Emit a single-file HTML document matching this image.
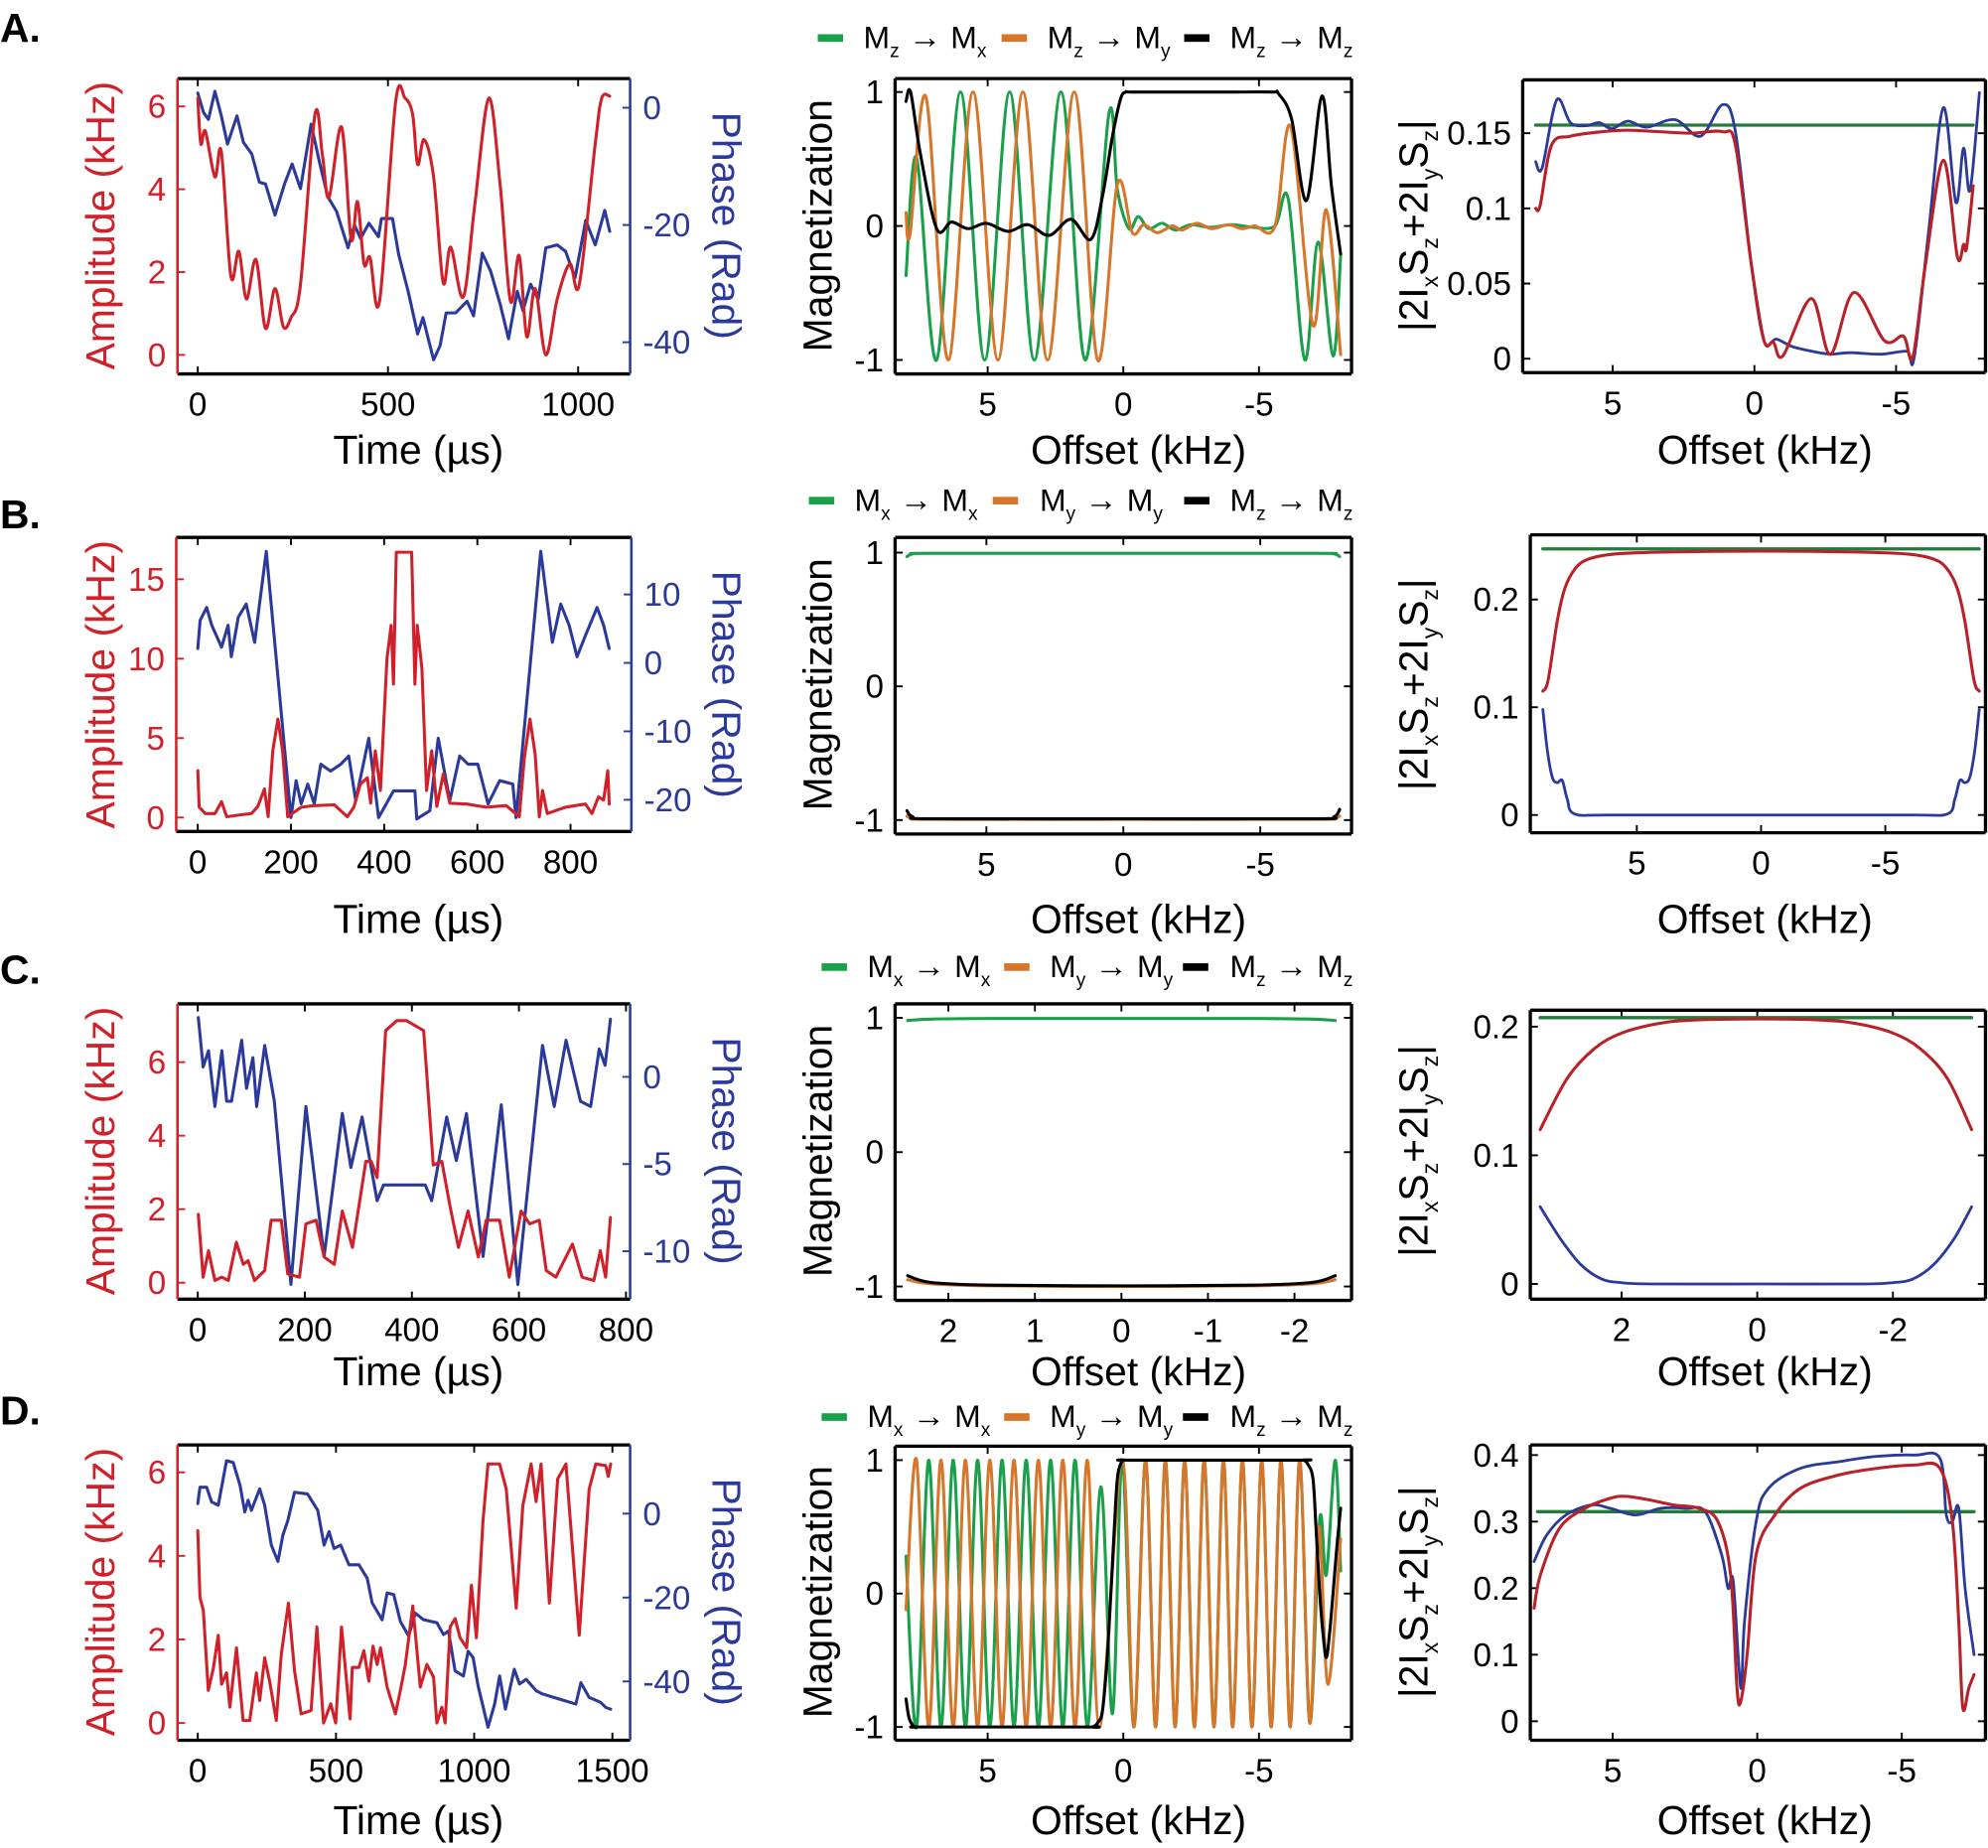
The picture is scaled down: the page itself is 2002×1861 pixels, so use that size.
<!DOCTYPE html>
<html><head><meta charset="utf-8">
<style>
body{margin:0;background:#fff}
svg{display:block}
text{font-family:"Liberation Sans",Arial,sans-serif}
.ar{font-weight:bold;font-size:26px}
</style></head>
<body>
<svg id="fig" xmlns="http://www.w3.org/2000/svg" width="2002" height="1861" viewBox="0 0 1568 1458" preserveAspectRatio="none">
<rect x="0" y="0" width="1568" height="1458" fill="#fff"/>
<g font-weight="bold" font-size="32">
<text x="0" y="33">A.</text>
<text x="0" y="417">B.</text>
<text x="0" y="776">C.</text>
<text x="0" y="1124">D.</text>
</g>
<g font-size="25">
<g>
<rect x="645" y="27" width="20" height="6" fill="#1aa04a"/>
<text x="681" y="38">M<tspan font-size="15" dy="7">z</tspan><tspan dy="-7" class="ar"> → </tspan><tspan>M</tspan><tspan font-size="15" dy="7">x</tspan></text>
<rect x="790" y="27" width="20" height="6" fill="#d5762a"/>
<text x="826" y="38">M<tspan font-size="15" dy="7">z</tspan><tspan dy="-7" class="ar"> → </tspan><tspan>M</tspan><tspan font-size="15" dy="7">y</tspan></text>
<rect x="934" y="27" width="20" height="6" fill="#000"/>
<text x="970" y="38">M<tspan font-size="15" dy="7">z</tspan><tspan dy="-7" class="ar"> → </tspan><tspan>M</tspan><tspan font-size="15" dy="7">z</tspan></text>
</g>
<g>
<rect x="638" y="392" width="20" height="6" fill="#1aa04a"/>
<text x="674" y="403">M<tspan font-size="15" dy="7">x</tspan><tspan dy="-7" class="ar"> → </tspan><tspan>M</tspan><tspan font-size="15" dy="7">x</tspan></text>
<rect x="783" y="392" width="20" height="6" fill="#d5762a"/>
<text x="820" y="403">M<tspan font-size="15" dy="7">y</tspan><tspan dy="-7" class="ar"> → </tspan><tspan>M</tspan><tspan font-size="15" dy="7">y</tspan></text>
<rect x="934" y="392" width="20" height="6" fill="#000"/>
<text x="970" y="403">M<tspan font-size="15" dy="7">z</tspan><tspan dy="-7" class="ar"> → </tspan><tspan>M</tspan><tspan font-size="15" dy="7">z</tspan></text>
</g>
<g>
<rect x="648" y="760" width="20" height="6" fill="#1aa04a"/>
<text x="684" y="771">M<tspan font-size="15" dy="7">x</tspan><tspan dy="-7" class="ar"> → </tspan><tspan>M</tspan><tspan font-size="15" dy="7">x</tspan></text>
<rect x="792" y="760" width="20" height="6" fill="#d5762a"/>
<text x="828" y="771">M<tspan font-size="15" dy="7">y</tspan><tspan dy="-7" class="ar"> → </tspan><tspan>M</tspan><tspan font-size="15" dy="7">y</tspan></text>
<rect x="933" y="760" width="20" height="6" fill="#000"/>
<text x="970" y="771">M<tspan font-size="15" dy="7">z</tspan><tspan dy="-7" class="ar"> → </tspan><tspan>M</tspan><tspan font-size="15" dy="7">z</tspan></text>
</g>
<g>
<rect x="648" y="1115" width="20" height="6" fill="#1aa04a"/>
<text x="684" y="1126">M<tspan font-size="15" dy="7">x</tspan><tspan dy="-7" class="ar"> → </tspan><tspan>M</tspan><tspan font-size="15" dy="7">x</tspan></text>
<rect x="792" y="1115" width="20" height="6" fill="#d5762a"/>
<text x="828" y="1126">M<tspan font-size="15" dy="7">y</tspan><tspan dy="-7" class="ar"> → </tspan><tspan>M</tspan><tspan font-size="15" dy="7">y</tspan></text>
<rect x="933" y="1115" width="20" height="6" fill="#000"/>
<text x="970" y="1126">M<tspan font-size="15" dy="7">z</tspan><tspan dy="-7" class="ar"> → </tspan><tspan>M</tspan><tspan font-size="15" dy="7">z</tspan></text>
</g>
</g>
<g font-size="32" text-anchor="middle">
<text x="330" y="366">Time (µs)</text>
<text x="898" y="366">Offset (kHz)</text>
<text x="1392" y="366">Offset (kHz)</text>
<text x="330" y="736">Time (µs)</text>
<text x="898" y="736">Offset (kHz)</text>
<text x="1392" y="736">Offset (kHz)</text>
<text x="330" y="1093">Time (µs)</text>
<text x="898" y="1093">Offset (kHz)</text>
<text x="1392" y="1093">Offset (kHz)</text>
<text x="330" y="1447">Time (µs)</text>
<text x="898" y="1447">Offset (kHz)</text>
<text x="1392" y="1447">Offset (kHz)</text>
<text transform="translate(90,178) rotate(-90)" fill="#d0202a">Amplitude (kHz)</text>
<text transform="translate(90,540) rotate(-90)" fill="#d0202a">Amplitude (kHz)</text>
<text transform="translate(90,908) rotate(-90)" fill="#d0202a">Amplitude (kHz)</text>
<text transform="translate(90,1256) rotate(-90)" fill="#d0202a">Amplitude (kHz)</text>
<text transform="translate(562,178) rotate(90)" fill="#2b3a9a">Phase (Rad)</text>
<text transform="translate(562,540) rotate(90)" fill="#2b3a9a">Phase (Rad)</text>
<text transform="translate(562,908) rotate(90)" fill="#2b3a9a">Phase (Rad)</text>
<text transform="translate(562,1256) rotate(90)" fill="#2b3a9a">Phase (Rad)</text>
<text transform="translate(656,178) rotate(-90)">Magnetization</text>
<text transform="translate(656,540) rotate(-90)">Magnetization</text>
<text transform="translate(656,908) rotate(-90)">Magnetization</text>
<text transform="translate(656,1256) rotate(-90)">Magnetization</text>
<text transform="translate(1126,178) rotate(-90)">|2I<tspan font-size="18" dy="8">x</tspan><tspan dy="-8">S</tspan><tspan font-size="18" dy="8">z</tspan><tspan dy="-8">+2I</tspan><tspan font-size="18" dy="8">y</tspan><tspan dy="-8">S</tspan><tspan font-size="18" dy="8">z</tspan><tspan dy="-8">|</tspan></text>
<text transform="translate(1126,540) rotate(-90)">|2I<tspan font-size="18" dy="8">x</tspan><tspan dy="-8">S</tspan><tspan font-size="18" dy="8">z</tspan><tspan dy="-8">+2I</tspan><tspan font-size="18" dy="8">y</tspan><tspan dy="-8">S</tspan><tspan font-size="18" dy="8">z</tspan><tspan dy="-8">|</tspan></text>
<text transform="translate(1126,908) rotate(-90)">|2I<tspan font-size="18" dy="8">x</tspan><tspan dy="-8">S</tspan><tspan font-size="18" dy="8">z</tspan><tspan dy="-8">+2I</tspan><tspan font-size="18" dy="8">y</tspan><tspan dy="-8">S</tspan><tspan font-size="18" dy="8">z</tspan><tspan dy="-8">|</tspan></text>
<text transform="translate(1126,1256) rotate(-90)">|2I<tspan font-size="18" dy="8">x</tspan><tspan dy="-8">S</tspan><tspan font-size="18" dy="8">z</tspan><tspan dy="-8">+2I</tspan><tspan font-size="18" dy="8">y</tspan><tspan dy="-8">S</tspan><tspan font-size="18" dy="8">z</tspan><tspan dy="-8">|</tspan></text>
</g>
</svg>
<script>
// ===== DATA =====
const aAmpT=[0,8,20,45,62,87,108,128,153,178,203,225,245,270,308,328,345,378,403,420,437,453,478,520,545,565,578,595,620,645,665,698,728,765,795,822,845,865,887,915,945,978,1003,1045,1062,1083];
const aAmpV=[6.2,5.1,5.4,4.3,4.9,1.9,2.5,1.35,2.3,0.64,1.6,0.68,0.9,1.7,5.8,4.8,3.8,5.5,2.8,3.7,2.2,2.35,1.3,6.1,6.2,5.8,4.6,5.2,4.3,1.75,2.6,1.4,3.6,6.2,4.1,1.3,2.4,0.44,1.6,0,1.35,2.2,1.7,5.1,6.2,6.25];
const aPhT=[0,15,28,45,62,78,103,120,142,162,178,203,228,248,270,298,320,342,365,395,412,428,450,475,483,512,528,553,578,592,620,637,653,678,708,725,748,770,795,817,840,855,875,895,915,945,967,992,1020,1045,1070,1083];
const aPhV=[2.5,-0.8,-2,2.8,-1.4,-6.2,-1.4,-5.9,-7.9,-12.7,-13,-18.3,-13,-9.6,-13.8,-2.8,-9.3,-15.2,-17.7,-23.9,-20,-22.3,-19.7,-22,-18.9,-18.9,-25,-31.3,-38.6,-35.8,-43,-40.6,-35,-35,-33,-35.5,-24.8,-27.9,-33.5,-39.4,-31.3,-34.6,-30.1,-32.7,-23.9,-23.4,-24.5,-29,-19.2,-23.4,-17.5,-21.1];
const bAmpT=[0,3,16,37,51,62,87,115,129,143,151,161,172,182,193,222,250,293,321,335,349,364,371,381,392,406,415,420,426,459,466,471,481,491,502,513,527,541,577,619,662,690,701,713,724,733,740,750,789,832,846,860,871,880,883];
const bAmpV=[2.95,0.66,0.25,0.25,1.0,0.05,0.15,0.25,0.7,1.8,0.05,4.2,6.2,4.2,0.05,0.65,0.75,0.8,0.05,0.65,2.1,2.5,0.9,4.2,1.7,10,12.1,8.4,16.7,16.7,8.4,12.1,9.4,1.7,4.2,0.7,2.75,0.9,0.85,0.65,0.75,0.05,3.8,6.2,4.0,0.05,1.7,0.25,0.65,0.85,0.25,1.3,1.1,2.95,0.85];
const bPhT=[0,5,19,30,51,65,72,87,104,122,147,200,211,222,236,250,264,285,307,324,339,367,388,420,466,470,498,516,541,562,580,601,623,648,676,683,736,761,779,797,814,832,857,871,883];
const bPhV=[2.1,6.2,8.1,5.5,2.3,5.5,0.9,6.7,8.6,3.0,16.3,-22.6,-17.2,-20.6,-17.7,-20.6,-14.8,-15.8,-14.8,-13.6,-20.1,-11,-22.6,-18.7,-18.7,-22.8,-21.6,-11,-20.1,-13.6,-14.8,-14.8,-20.6,-17.2,-17.7,-22.6,16.3,3.0,8.6,5.5,0.9,4.0,8.1,5.5,2.1];
const cAmpT=[1,10,20,32,45,57,72,85,94,106,125,137,156,168,190,202,221,236,255,270,289,314,324,335,351,372,390,422,440,456,471,487,505,524,539,564,582,604,620,638,651,669,700,718,740,752,762,771];
const cAmpV=[1.86,0.15,0.87,0.06,0.15,0.06,1.1,0.5,0.6,0.06,0.33,1.7,1.7,0.24,0.15,1.6,1.7,0.7,0.5,1.95,0.96,3.3,3.3,2.86,6.86,7.13,7.13,6.86,3.2,3.3,2.1,0.96,1.95,0.7,1.7,1.7,0.15,1.95,1.6,1.7,0.33,0.15,1.05,0.15,0.06,0.87,0.15,1.77];
const cPhT=[1,10,20,32,45,54,63,82,91,103,110,125,143,174,202,236,270,286,307,335,347,425,437,465,483,502,533,567,598,644,666,688,715,734,750,761,771];
const cPhV=[3.4,0.57,1.5,-1.7,1.5,-1.4,-1.4,2.1,-0.66,1.1,-1.7,1.8,-1.4,-11.9,-1.7,-10.3,-2.1,-5.2,-2.3,-7.1,-6.2,-6.2,-7.1,-2.3,-4.8,-2.1,-10.3,-1.6,-11.9,1.8,-1.7,2.1,-1.4,-1.7,1.6,0.66,3.3];
const dAmpT=[0,8,20,38,56,74,86,104,116,140,164,188,212,224,242,260,284,302,328,350,374,410,431,455,481,499,520,551,559,583,601,619,634,649,661,685,715,733,751,778,805,829,853,865,883,895,913,931,949,973,990,1008,1032,1050,1092,1116,1152,1176,1206,1224,1242,1272,1302,1332,1380,1416,1440,1476,1485,1494];
const dAmpV=[4.6,3.0,2.7,0.78,1.3,2.1,0.93,1.2,0.38,1.8,0.06,0.06,1.2,0.54,1.56,1.0,0.06,1.64,2.87,1.25,0.22,0.3,2.3,0,0.46,0,2.3,0.1,1.33,1.33,1.73,1.0,1.84,1.4,1.8,0.86,0.22,0.78,1.4,2.8,0.86,1.4,1.1,0,0.38,0,2.3,2.5,2.04,1.8,3.3,2.04,4.85,6.2,6.2,5.6,2.75,5.2,6.2,5.3,6.2,2.87,5.84,6.2,2.1,5.6,6.2,6.16,5.9,6.2];
const dPhT=[0,8,32,50,74,104,128,153,170,182,194,224,242,266,290,308,326,350,397,434,457,475,493,517,547,583,613,631,667,685,709,733,763,787,817,865,889,907,931,961,978,996,1014,1050,1074,1092,1113,1145,1164,1188,1224,1248,1308,1368,1386,1416,1458,1476,1494];
const dPhV=[2.4,6.3,6.3,2.8,2.0,12.6,12.2,6.7,0.4,3.2,0.8,5.9,2.0,-7.5,-11.4,-5.1,-1.6,5.1,4.7,0.8,-7.5,-4.3,-8.3,-7.5,-12.2,-12.2,-15.4,-21.3,-25.3,-18.9,-19.3,-25.7,-29.2,-23.7,-25.3,-26.0,-28.8,-28.0,-37.5,-38.7,-32.8,-34.3,-41.0,-50.9,-45.4,-38.7,-46.6,-37.1,-40.6,-39.5,-42.2,-43.0,-44.2,-45.4,-40.3,-43.8,-45.0,-46.2,-46.6];
const caGx=[8.01,7.62,6.88,6.0,5.11,4.19,3.28,2.3,1.41,0.53,0.22,-0.21,-0.55,-0.94,-1.43,-1.92,-2.5,-3.2,-4.0,-4.8,-5.59,-6.08,-6.69,-7.18,-7.73,-8.01];
const caGy=[-0.37,0.51,-1,1,-1,1,-1,1,-1,0.84,0.27,-0.02,0.07,-0.02,0.02,-0.03,0.01,-0.01,0.01,-0.01,0,0.2,-1,-0.12,-0.97,-0.22];
const caOx=[8.01,7.86,7.27,6.45,5.54,4.62,3.70,2.79,1.81,0.95,0.22,-0.33,-0.76,-1.25,-1.80,-2.16,-2.71,-3.26,-3.88,-4.36,-4.85,-5.59,-6.17,-6.99,-7.48,-8.01];
const caOy=[0.1,-0.06,0.96,-1,1,-1,1,-1,1,-1,0.31,-0.05,0.01,-0.05,0,-0.03,0.02,-0.02,0.01,-0.02,0,0,0.74,-0.74,0.12,-0.96];
const caKx=[8.01,7.84,7.49,6.88,6.33,5.72,5.05,4.25,3.52,2.73,1.93,1.2,0.77,0.4,0.1,-0.09,-0.3,-2,-4,-5.5,-5.71,-6.2,-6.75,-7.32,-7.67,-8.01];
const caKy=[0.93,1,0.55,-0.02,0.03,-0.02,0.02,-0.04,0.01,-0.07,0.05,-0.1,0.22,0.67,0.95,1,1,1,1,1,0.99,0.8,0.19,0.97,0.3,-0.21];
const cbX=[7.9,7.7,7.0,0,-7,-7.7,-7.9];
const cbGy=[0.97,0.99,0.995,0.995,0.995,0.99,0.97];
const cbOy=[-0.97,-0.985,-0.995,-0.995,-0.995,-0.985,-0.97];
const cbKy=[-0.93,-0.975,-0.99,-0.99,-0.99,-0.975,-0.92];
const ccX=[2.47,2.2,1.5,0,-1.5,-2.2,-2.47];
const ccGy=[0.98,0.99,0.995,0.995,0.995,0.99,0.98];
const ccOy=[-0.95,-0.98,-0.995,-1,-0.995,-0.98,-0.95];
const ccKy=[-0.92,-0.97,-0.99,-0.995,-0.99,-0.97,-0.92];
const cdOx=[8.01,7.62,7.17,6.72,6.27,5.82,5.37,4.92,4.47,4.03,3.58,3.13,2.68,2.23,1.78,1.33,0.88,0.04,-0.39,-0.82,-1.19,-1.55,-1.91,-2.26,-2.62,-2.98,-3.34,-3.69,-4.03,-4.39,-4.74,-5.10,-5.45,-5.81,-6.15,-6.50,-6.87,-7.2,-7.54,-8.01];
const cdOy=[-0.12,1,-1,1,-1,1,-1,1,-1,1,-1,1,-1,1,-1,1,-1,1,-1,1,-1,1,-1,1,-1,1,-1,1,-1,1,-1,1,-1,1,-1,1,-0.97,0.5,-0.68,0.41];
const cdGx=[8.01,7.62,7.17,6.72,6.27,5.82,5.37,4.92,4.47,4.03,3.58,3.13,2.68,2.23,1.78,1.33,0.83,0.40,0.04,-0.39,-0.82,-1.19,-1.55,-1.91,-2.26,-2.62,-2.98,-3.34,-3.69,-4.03,-4.39,-4.74,-5.10,-5.45,-5.81,-6.15,-6.50,-6.87,-7.24,-7.48,-7.81,-8.01];
const cdGy=[0.28,-1,1,-1,1,-1,1,-1,1,-1,1,-1,1,-1,1,-1,0.8,-0.9,1,-1,1,-1,1,-1,1,-1,1,-1,1,-1,1,-1,1,-1,1,-1,1,-0.97,0.56,0.14,1.0,0.17];
const cdKx=[8.01,7.9,7.75,7.62,7.3,1.4,1.14,0.95,0.77,0.6,0.46,0.33,0.22,0.08,-0.09,-0.3,-6.4,-6.63,-6.8,-6.99,-7.1,-7.24,-7.36,-7.48,-7.6,-7.73,-7.87,-8.01];
const cdKy=[-0.79,-0.93,-0.99,-1,-1,-1,-1,-0.97,-0.88,-0.5,0,0.5,0.86,0.98,1,1,1,1,0.97,0.86,0.5,0,-0.3,-0.48,-0.3,0,0.35,0.64];
const raBx=[7.72,7.49,6.98,6.49,5.93,5.48,5.03,4.47,3.80,2.80,1.90,1.12,0.67,0.11,-0.34,-0.78,-1.34,-2.01,-2.68,-3.36,-4.47,-5.37,-5.64,-6.15,-6.67,-7.11,-7.38,-7.61,-7.94];
const raBy=[0.131,0.127,0.172,0.157,0.155,0.157,0.153,0.158,0.154,0.159,0.148,0.169,0.151,0.063,0.012,0.013,0.008,0.005,0.003,0.004,0.003,0.005,0.001,0.085,0.167,0.104,0.14,0.112,0.177];
const raRx=[7.72,7.56,7.16,6.49,5.37,4.47,3.36,2.24,1.12,0.67,0.11,-0.34,-0.67,-1.01,-2.01,-2.68,-3.51,-4.59,-5.26,-5.59,-6.04,-6.67,-7.16,-7.38,-7.49,-7.72];
const raRy=[0.1,0.102,0.142,0.148,0.151,0.152,0.151,0.150,0.151,0.142,0.063,0.012,0.011,0.002,0.04,0.003,0.044,0.012,0.015,0.001,0.063,0.132,0.068,0.076,0.074,0.115];
const raGx=[7.72,-7.72]; const raGy=[0.1554,0.1554];
const rbRx=[8.78,8.57,8.2,7.9,7.5,7.0,6,4,0,-4,-6,-7.0,-7.5,-7.9,-8.2,-8.57,-8.78];
const rbRy=[0.115,0.125,0.18,0.21,0.228,0.237,0.242,0.244,0.245,0.244,0.242,0.237,0.228,0.21,0.18,0.125,0.115];
const rbBx=[8.78,8.6,8.4,8.2,8.0,7.8,7.5,6,0,-6,-7.5,-7.8,-8.0,-8.2,-8.4,-8.6,-8.78];
const rbBy=[0.098,0.06,0.035,0.03,0.032,0.015,0.001,0,0,0,0.001,0.015,0.032,0.03,0.035,0.06,0.098];
const rbGx=[8.78,-8.78]; const rbGy=[0.247,0.247];
const rcRx=[3.2,2.8,2.4,2,1.5,1,0,-1,-1.5,-2,-2.4,-2.8,-3.16];
const rcRy=[0.12,0.16,0.183,0.195,0.202,0.205,0.206,0.205,0.202,0.195,0.183,0.16,0.12];
const rcBx=[3.2,2.9,2.6,2.3,2,1.5,0,-1.5,-2,-2.3,-2.6,-2.9,-3.16];
const rcBy=[0.06,0.035,0.015,0.004,0.001,0,0,0,0.001,0.004,0.015,0.035,0.06];
const rcGx=[3.2,-3.16]; const rcGy=[0.207,0.207];
const rdRx=[7.72,7.5,6.84,5.96,5.09,4.56,3.77,2.89,2.02,1.36,0.92,0.7,0.57,0.35,0.04,-0.61,-1.49,-2.81,-4.12,-5.44,-6.32,-6.75,-6.97,-7.11,-7.32,-7.5];
const rdRy=[0.17,0.22,0.29,0.32,0.335,0.338,0.333,0.325,0.32,0.3,0.22,0.05,0.03,0.1,0.25,0.31,0.35,0.37,0.38,0.385,0.38,0.3,0.15,0.02,0.05,0.07];
const rdBx=[7.72,7.28,6.62,5.75,5.09,4.21,3.33,2.46,1.8,1.23,1.01,0.83,0.57,0.44,0.04,-0.39,-1.49,-2.81,-4.12,-5.44,-6.32,-6.54,-6.75,-6.97,-7.19,-7.5];
const rdBy=[0.24,0.28,0.31,0.325,0.32,0.31,0.32,0.32,0.315,0.25,0.2,0.21,0.05,0.15,0.3,0.35,0.38,0.39,0.398,0.4,0.395,0.31,0.3,0.32,0.2,0.1];
const rdGx=[7.6,-7.5]; const rdGy=[0.315,0.315];
const tA_x=[0,500,1000], tA_y=[0,2,4,6], tA_y2=[0,-20,-40];
const tB_x=[0,200,400,600,800], tB_y=[0,5,10,15], tB_y2=[10,0,-10,-20];
const tC_x=[0,200,400,600,800], tC_y=[0,2,4,6], tC_y2=[0,-5,-10];
const tD_x=[0,500,1000,1500], tD_y=[0,2,4,6], tD_y2=[0,-20,-40];
const tMag_y=[1,0,-1], tOff_x=[5,0,-5], tOffC_x=[2,1,0,-1,-2], tOffRC_x=[2,0,-2];
const tRA_y=[0,0.05,0.1,0.15], tRA_lab=['0','0.05','0.1','0.15'];
const tRB_y=[0,0.1,0.2], tRB_lab=['0','0.1','0.2'];
const tRD_y=[0,0.1,0.2,0.3,0.4], tRD_lab=['0','0.1','0.2','0.3','0.4'];

// ===== DRAWING =====
const NS='http://www.w3.org/2000/svg';
const svg=document.getElementById('fig');
const RED='#d0202a', BLUE='#2b3a9a', GREEN='#1aa04a', ORANGE='#d5762a', DGREEN='#237b3a', DRED='#b82128';
function lin(d0,p0,d1,p1){return v=>p0+(v-d0)*(p1-p0)/(d1-d0);}
function mk(tag,parent){const e=document.createElementNS(NS,tag);parent.appendChild(e);return e;}
function lineD(xs,ys,sx,sy){return xs.map((x,i)=>(i?'L':'M')+sx(x).toFixed(2)+' '+sy(ys[i]).toFixed(2)).join('');}
function smoothD(xs,ys,sx,sy){
  const p=xs.map((x,i)=>[sx(x),sy(ys[i])]);
  let d='M'+p[0][0].toFixed(2)+' '+p[0][1].toFixed(2);
  for(let i=0;i<p.length-1;i++){
    const p0=p[i-1]||p[i],p1=p[i],p2=p[i+1],p3=p[i+2]||p[i+1];
    const c1x=p1[0]+(p2[0]-p0[0])/6,c1y=p1[1]+(p2[1]-p0[1])/6;
    const c2x=p2[0]-(p3[0]-p1[0])/6,c2y=p2[1]-(p3[1]-p1[1])/6;
    d+='C'+c1x.toFixed(2)+' '+c1y.toFixed(2)+' '+c2x.toFixed(2)+' '+c2y.toFixed(2)+' '+p2[0].toFixed(2)+' '+p2[1].toFixed(2);
  }
  return d;
}
function series(g,name,xs,ys,sx,sy,color,w,smooth){
  const e=mk('path',g);
  
  
  e.setAttribute('d',smooth?smoothD(xs,ys,sx,sy):lineD(xs,ys,sx,sy));
  e.setAttribute('fill','none');e.setAttribute('stroke',color);e.setAttribute('stroke-width',w);
  e.setAttribute('stroke-linejoin','round');e.setAttribute('stroke-linecap','round');
}
function seg(g,name,x1,y1,x2,y2,color,w){
  const e=mk('line',g);
  
  
  e.setAttribute('x1',x1);e.setAttribute('y1',y1);e.setAttribute('x2',x2);e.setAttribute('y2',y2);
  e.setAttribute('stroke',color);e.setAttribute('stroke-width',w);
}
function label(g,name,x,y,str,anchor,color){
  const e=mk('text',g);
  
  
  e.setAttribute('x',x);e.setAttribute('y',y);e.setAttribute('text-anchor',anchor);
  e.setAttribute('font-size','26');e.setAttribute('fill',color);e.textContent=str;
}
function panel(name,b,sx,sy,xt,xl,yt,yl,ycol,sy2,y2t,y2l){
  const g=mk('g',svg);
  
  
  const L=6;
  xt.forEach((v,i)=>{const x=sx(v);
    seg(g,'x-tick',x,b.y1,x,b.y1-L,'#000',1.5);
    seg(g,'x-tick-top',x,b.y0,x,b.y0+L,'#000',1.5);
    label(g,'x-tick-label',x,b.y1+33,xl[i],'middle','#000');});
  yt.forEach((v,i)=>{const y=sy(v);
    seg(g,'y-tick',b.x0,y,b.x0+L,y,ycol,1.5);
    if(!sy2) seg(g,'y-tick-right',b.x1,y,b.x1-L,y,'#000',1.5);
    label(g,'y-tick-label',b.x0-9,y+9,yl[i],'end',ycol);});
  if(sy2){y2t.forEach((v,i)=>{const y=sy2(v);
    seg(g,'y2-tick',b.x1,y,b.x1-L,y,BLUE,1.5);
    label(g,'y2-tick-label',b.x1+10,y+9,y2l[i],'start',BLUE);});}
  seg(g,'frame-top',b.x0,b.y0,b.x1,b.y0,'#000',2.6);
  seg(g,'frame-bottom',b.x0,b.y1,b.x1,b.y1,'#000',2.6);
  seg(g,'frame-left',b.x0,b.y0,b.x0,b.y1,sy2?RED:'#000',sy2?2:2.6);
  seg(g,'frame-right',b.x1,b.y0,b.x1,b.y1,sy2?BLUE:'#000',sy2?2:2.6);
  return g;
}
const S=a=>a.map(String);

{const b={x0:140,x1:497,y0:62,y1:295},sx=lin(0,156,1000,456),sy=lin(0,280,6,84),sy2=lin(0,85,-40,270);
 const g=panel('pulse-panel-a',b,sx,sy,tA_x,S(tA_x),tA_y,S(tA_y),RED,sy2,tA_y2,S(tA_y2));
 series(g,'phase-line-a',aPhT,aPhV,sx,sy2,BLUE,2.4,false);
 series(g,'amplitude-line-a',aAmpT,aAmpV,sx,sy,RED,2.4,true);}
{const b={x0:706,x1:1066,y0:62,y1:295},sx=lin(5,779,-5,993),sy=lin(1,72.6,-1,284);
 const g=panel('magnetization-panel-a',b,sx,sy,tOff_x,S(tOff_x),tMag_y,S(tMag_y),'#000');
 series(g,'mz-mx-line',caGx,caGy,sx,sy,GREEN,2.4,true);
 series(g,'mz-my-line',caOx,caOy,sx,sy,ORANGE,2.4,true);
 series(g,'mz-mz-line',caKx,caKy,sx,sy,'#000',2.4,true);}
{const b={x0:1201,x1:1566,y0:63,y1:294},sx=lin(5,1272,-5,1495.5),sy=lin(0,283,0.1,164.4);
 const g=panel('coherence-panel-a',b,sx,sy,tOff_x,S(tOff_x),tRA_y,tRA_lab,'#000');
 series(g,'target-line-a',raGx,raGy,sx,sy,DGREEN,2.6,false);
 series(g,'blue-line-a',raBx,raBy,sx,sy,BLUE,2.2,true);
 series(g,'red-line-a',raRx,raRy,sx,sy,DRED,2.4,true);}
{const b={x0:139,x1:498,y0:424,y1:656},sx=lin(0,156,800,450),sy=lin(0,645,15,457),sy2=lin(10,469,-20,631);
 const g=panel('pulse-panel-b',b,sx,sy,tB_x,S(tB_x),tB_y,S(tB_y),RED,sy2,tB_y2,S(tB_y2));
 series(g,'phase-line-b',bPhT,bPhV,sx,sy2,BLUE,2.4,false);
 series(g,'amplitude-line-b',bAmpT,bAmpV,sx,sy,RED,2.4,false);}
{const b={x0:706,x1:1066,y0:424,y1:658},sx=lin(5,778,-5,994),sy=lin(1,436,-1,647);
 const g=panel('magnetization-panel-b',b,sx,sy,tOff_x,S(tOff_x),tMag_y,S(tMag_y),'#000');
 series(g,'mx-mx-line',cbX,cbGy,sx,sy,GREEN,2.4,true);
 series(g,'my-my-line',cbX,cbOy,sx,sy,ORANGE,2.4,true);
 series(g,'mz-mz-line-b',cbX,cbKy,sx,sy,'#000',2.4,true);}
{const b={x0:1207,x1:1566,y0:422,y1:657},sx=lin(5,1291,-5,1487),sy=lin(0,643,0.2,473);
 const g=panel('coherence-panel-b',b,sx,sy,tOff_x,S(tOff_x),tRB_y,tRB_lab,'#000');
 series(g,'target-line-b',rbGx,rbGy,sx,sy,DGREEN,2.6,false);
 series(g,'blue-line-b',rbBx,rbBy,sx,sy,BLUE,2.2,true);
 series(g,'red-line-b',rbRx,rbRy,sx,sy,DRED,2.4,true);}
{const b={x0:140,x1:497,y0:792,y1:1025},sx=lin(0,156,600,409.3),sy=lin(0,1012,6,838),sy2=lin(0,849.6,-10,987.2);
 const g=panel('pulse-panel-c',b,sx,sy,tC_x,S(tC_x),tC_y,S(tC_y),RED,sy2,tC_y2,S(tC_y2));
 series(g,'phase-line-c',cPhT,cPhV,sx,sy2,BLUE,2.4,false);
 series(g,'amplitude-line-c',cAmpT,cAmpV,sx,sy,RED,2.4,false);}
{const b={x0:706,x1:1066,y0:792,y1:1026},sx=lin(2,748,-2,1021),sy=lin(1,803,-1,1015);
 const g=panel('magnetization-panel-c',b,sx,sy,tOffC_x,S(tOffC_x),tMag_y,S(tMag_y),'#000');
 series(g,'mx-mx-line-c',ccX,ccGy,sx,sy,GREEN,2.4,true);
 series(g,'my-my-line-c',ccX,ccOy,sx,sy,ORANGE,2.4,true);
 series(g,'mz-mz-line-c',ccX,ccKy,sx,sy,'#000',2.4,true);}
{const b={x0:1207,x1:1566,y0:797,y1:1025},sx=lin(2,1279,-2,1493),sy=lin(0,1013,0.2,810);
 const g=panel('coherence-panel-c',b,sx,sy,tOffRC_x,S(tOffRC_x),tRB_y,tRB_lab,'#000');
 series(g,'target-line-c',rcGx,rcGy,sx,sy,DGREEN,2.6,false);
 series(g,'blue-line-c',rcBx,rcBy,sx,sy,BLUE,2.2,true);
 series(g,'red-line-c',rcRx,rcRy,sx,sy,DRED,2.4,true);}
{const b={x0:140,x1:497,y0:1140,y1:1373},sx=lin(0,156,1500,483),sy=lin(0,1359.4,6,1161.6),sy2=lin(0,1194.2,-40,1326.6);
 const g=panel('pulse-panel-d',b,sx,sy,tD_x,S(tD_x),tD_y,S(tD_y),RED,sy2,tD_y2,S(tD_y2));
 series(g,'phase-line-d',dPhT,dPhV,sx,sy2,BLUE,2.4,false);
 series(g,'amplitude-line-d',dAmpT,dAmpV,sx,sy,RED,2.4,false);}
{const b={x0:706,x1:1066,y0:1141,y1:1373},sx=lin(5,779,-5,993),sy=lin(1,1152,-1,1362.5);
 const g=panel('magnetization-panel-d',b,sx,sy,tOff_x,S(tOff_x),tMag_y,S(tMag_y),'#000');
 series(g,'mx-mx-line-d',cdGx,cdGy,sx,sy,GREEN,2.4,true);
 series(g,'my-my-line-d',cdOx,cdOy,sx,sy,ORANGE,2.4,true);
 series(g,'mz-mz-line-d',cdKx,cdKy,sx,sy,'#000',2.4,true);}
{const b={x0:1207,x1:1566,y0:1140,y1:1373},sx=lin(5,1272,-5,1500),sy=lin(0,1358,0.4,1148);
 const g=panel('coherence-panel-d',b,sx,sy,tOff_x,S(tOff_x),tRD_y,tRD_lab,'#000');
 series(g,'target-line-d',rdGx,rdGy,sx,sy,DGREEN,2.6,false);
 series(g,'blue-line-d',rdBx,rdBy,sx,sy,BLUE,2.2,true);
 series(g,'red-line-d',rdRx,rdRy,sx,sy,DRED,2.4,true);}
</script>
</body></html>
